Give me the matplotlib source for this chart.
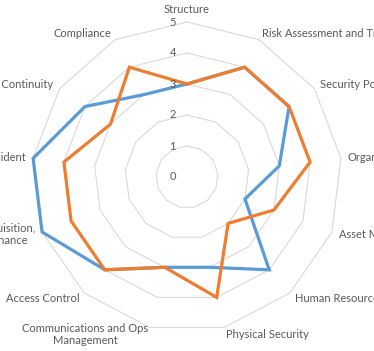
import numpy as np
import matplotlib
matplotlib.use("Agg")
import matplotlib.pyplot as plt

# ------------------------ data ------------------------
CATEGORIES = [
    "Structure",
    "Risk Assessment and Treatment",
    "Security Policy",
    "Organization",
    "Asset Management",
    "Human Resources",
    "Physical Security",
    "Communications and Ops\nManagement",
    "Access Control",
    "Information Systems Acquisition,\nDevelopment & Maintenance",
    "Incident",
    "Business Continuity",
    "Compliance",
]
SERIES_BLUE = [3, 4, 4, 3, 2, 4, 3, 3, 4, 5, 5, 4, 3]
SERIES_ORANGE = [3, 4, 4, 4, 3, 2, 4, 3, 4, 4, 4, 3, 4]
RING_VALUES = [0, 1, 2, 3, 4, 5]

BLUE = "#5B9BD5"
ORANGE = "#ED7D31"
GRID = "#D9D9D9"
TEXT = "#595959"

plt.rcParams["font.family"] = ["Lato", "DejaVu Sans"]

W, H, DPI = 374, 351, 100
CX, CY, R5 = 187, 177, 155  # centre and outer ring radius in pixels

fig = plt.figure(figsize=(W / DPI, H / DPI), dpi=DPI)
ax = fig.add_axes([(CX - R5) / W, (H - CY - R5) / H, 2 * R5 / W, 2 * R5 / H],
                  projection="polar")
ax.set_theta_offset(np.pi / 2)
ax.set_theta_direction(-1)
ax.set_ylim(0, 5)
ax.grid(False)
ax.spines["polar"].set_visible(False)
ax.set_xticks([])
ax.set_yticks([])
ax.patch.set_visible(False)

n = len(CATEGORIES)
theta = np.arange(n) * 2 * np.pi / n
theta_c = np.append(theta, theta[0])

# polygon rings
for v in RING_VALUES[1:]:
    ax.plot(theta_c, [v] * (n + 1), color=GRID, lw=0.8, zorder=1, clip_on=False)

# series (orange drawn on top)
for vals, col in [(SERIES_BLUE, BLUE), (SERIES_ORANGE, ORANGE)]:
    ax.plot(theta_c, list(vals) + [vals[0]], color=col, lw=2.3, zorder=3,
            solid_joinstyle="miter", clip_on=False)

# value labels along the top axis
for v in RING_VALUES:
    ax.annotate(str(v), xy=(0, v), xytext=(-11, 0), textcoords="offset pixels",
                ha="right", va="center", fontsize=8, color=TEXT)

# category labels
LABEL_R = 5.23
for t, lab in zip(theta, CATEGORIES):
    s = np.sin(t)
    if abs(s) < 1e-6:
        ha = "center"
    elif s > 0:
        ha = "left"
    else:
        ha = "right"
    va = "bottom" if abs(t) < 1e-6 else "center"
    ax.text(t, LABEL_R, lab, ha=ha, va=va, fontsize=8, color=TEXT,
            multialignment="center", clip_on=False)

fig.savefig("out.png", dpi=DPI)
